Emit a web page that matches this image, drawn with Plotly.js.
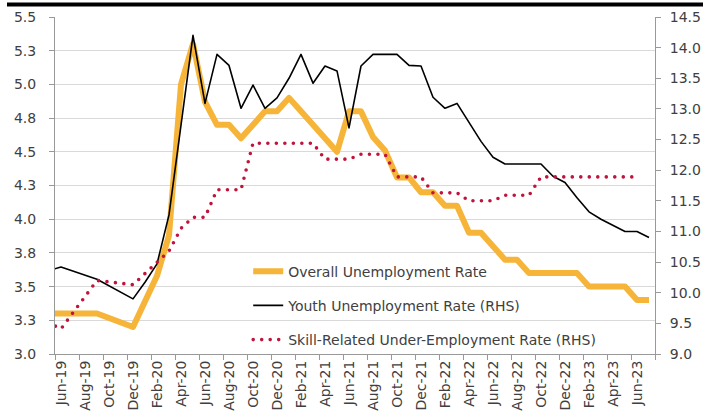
<!DOCTYPE html>
<html>
<head>
<meta charset="utf-8">
<script src="https://cdn.plot.ly/plotly-3.0.1.min.js"></script>
<style>
  html, body { margin: 0; padding: 0; background: #fff; }
  #chart { width: 703px; height: 416px; }
  path.js-line { stroke-linejoin: round; }
  path.js-line[style*="rgb(192, 20, 60)"] { stroke-linecap: round; }
</style>
</head>
<body>
<div id="chart"></div>
<script>
// Monthly categories (Mar-19 .. May-19 lie left of the visible axis start, as in the source chart)
const months = ['Mar-19','Apr-19','May-19','Jun-19','Jul-19','Aug-19','Sep-19','Oct-19','Nov-19','Dec-19',
  'Jan-20','Feb-20','Mar-20','Apr-20','May-20','Jun-20','Jul-20','Aug-20','Sep-20','Oct-20','Nov-20','Dec-20',
  'Jan-21','Feb-21','Mar-21','Apr-21','May-21','Jun-21','Jul-21','Aug-21','Sep-21','Oct-21','Nov-21','Dec-21',
  'Jan-22','Feb-22','Mar-22','Apr-22','May-22','Jun-22','Jul-22','Aug-22','Sep-22','Oct-22','Nov-22','Dec-22',
  'Jan-23','Feb-23','Mar-23','Apr-23','May-23','Jun-23','Jul-23'];

// Overall unemployment rate (%), left axis
const overall = [3.3,null,null,3.3,null,null,3.3,null,null,3.2,
  3.38,3.58,3.88,5.0,5.3,4.87,4.7,4.7,4.6,4.7,4.8,4.8,
  4.9,4.8,4.7,4.6,4.5,4.8,4.8,4.61,4.51,4.31,4.31,4.2,
  4.2,4.1,4.1,3.9,3.9,3.8,3.7,3.7,3.6,3.6,3.6,3.6,
  3.6,3.5,3.5,3.5,3.5,3.4,3.4];

// Youth unemployment rate (%), right axis
const youth = [10.25,null,null,10.42,null,null,10.22,null,null,9.9,
  10.17,10.47,11.27,12.7,14.2,13.09,13.89,13.71,13.01,13.39,13.01,13.18,
  13.5,13.89,13.42,13.7,13.62,12.69,13.7,13.89,13.89,13.89,13.71,13.7,
  13.19,13.01,13.09,12.78,12.47,12.21,12.1,12.1,12.1,12.1,11.9,11.8,
  11.55,11.32,11.2,11.1,11.0,11.0,10.9];

// Skill-related under-employment rate (%), right axis
const skill = [9.7,null,null,9.41,null,null,10.2,null,null,10.13,
  null,null,10.68,11.05,11.23,11.23,11.68,11.68,11.68,12.44,12.44,12.44,
  12.44,12.44,12.44,12.18,12.18,12.18,12.26,12.26,12.26,11.89,11.89,11.89,
  11.63,11.63,11.63,11.5,11.5,11.5,11.59,11.59,11.59,11.89,11.89,11.89,
  11.89,11.89,11.89,11.89,11.89,11.89,null];

const seriesNames = ['Overall Unemployment Rate',
  'Youth Unemployment Rate (RHS)',
  'Skill-Related Under-Employment Rate (RHS)'];

const FONT = 'DejaVu Sans, Verdana, sans-serif';
const TXT = '#404040';

const traces = [
  {x: months, y: overall, name: seriesNames[0], type: 'scatter', mode: 'lines',
   connectgaps: true, legendgroup: 'a',
   line: {color: '#F6B539', width: 6}, yaxis: 'y'},
  {x: months, y: youth, name: seriesNames[1], type: 'scatter', mode: 'lines',
   connectgaps: true, legendgroup: 'b',
   line: {color: '#000000', width: 1.6}, yaxis: 'y2'},
  {x: months, y: skill, name: seriesNames[2], type: 'scatter', mode: 'lines',
   connectgaps: true, legendgroup: 'c',
   line: {color: '#C0143C', width: 3.6, dash: '0px,8.5px'}, yaxis: 'y2'}
];

const layout = {
  width: 703, height: 416,
  margin: {l: 55, r: 48, t: 17, b: 62, pad: 0},
  paper_bgcolor: '#ffffff', plot_bgcolor: '#ffffff',
  font: {family: FONT, size: 14, color: TXT},
  showlegend: true,
  legend: {x: 0.322, xanchor: 'left', y: 0.292, yanchor: 'top',
    bgcolor: 'rgba(0,0,0,0)', font: {family: FONT, size: 14, color: TXT},
    tracegroupgap: 13, traceorder: 'grouped'},
  xaxis: {type: 'category', range: [2.5, 52.5], tickmode: 'linear', tick0: 1, dtick: 2,
    tickson: 'boundaries', ticks: 'outside', ticklen: 5, tickcolor: '#999',
    tickangle: -90, showgrid: false, zeroline: false,
    showline: true, linecolor: '#999', linewidth: 1,
    tickfont: {family: FONT, size: 14, color: TXT}},
  yaxis: {range: [3, 5.5], tickmode: 'linear', tick0: 3, dtick: 0.25, tickformat: '.1f',
    ticks: 'outside', ticklen: 5, tickcolor: '#999', ticklabelstandoff: 10,
    showgrid: true, gridcolor: '#d9d9d9', gridwidth: 1, zeroline: false,
    showline: true, linecolor: '#999', linewidth: 1,
    tickfont: {family: FONT, size: 14, color: TXT}},
  yaxis2: {range: [9, 14.5], tickmode: 'linear', tick0: 9, dtick: 0.5, tickformat: '.1f',
    overlaying: 'y', side: 'right', anchor: 'x',
    ticks: 'outside', ticklen: 5, tickcolor: '#999', ticklabelstandoff: 6,
    showgrid: false, zeroline: false,
    showline: true, linecolor: '#999', linewidth: 1,
    tickfont: {family: FONT, size: 14, color: TXT}},
  shapes: [
    {type: 'line', xref: 'paper', yref: 'paper', x0: -0.08, x1: 1.09, y0: 1.037, y1: 1.037,
     line: {color: '#000', width: 4}}
  ]
};

Plotly.newPlot('chart', traces, layout, {displayModeBar: false, staticPlot: true});
</script>
</body>
</html>
